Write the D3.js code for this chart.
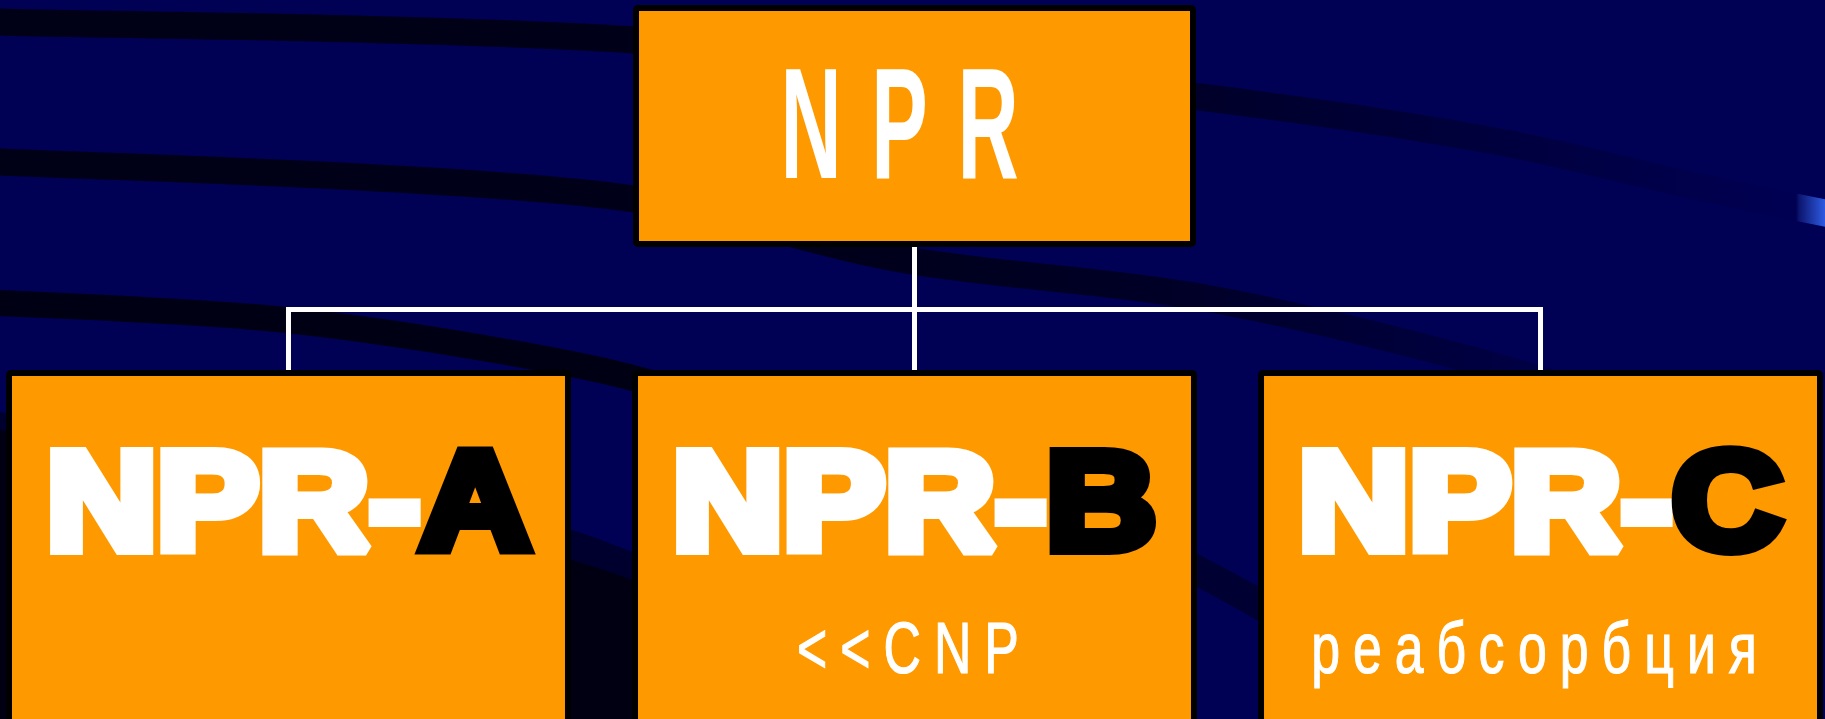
<html>
<meta charset="utf-8">
<script src="https://d3js.org/d3.v7.min.js"></script>
<style>
  body { margin: 0; background: #000055; overflow: hidden; }
  svg { display: block; }
</style>
<body>
<script>
// hierarchy: one parent, three children
const rootName = "NPR";
const childKeys = ["A", "B", "C"];
const childNotes = ["", "<<CNP", "реабсорбция"];

const width = 1825, height = 719;

// background swooshes of the slide template (decoration only)
const swooshes = [
  { pts: [[-20, 21], [0, 22], [634, 40], [1200, 97], [1500, 142], [1690, 185], [1840, 216]], w: 27, paint: 'url(#fade1)' },
  { pts: [[-20, 161], [0, 162], [634, 199], [900, 259], [1200, 297], [1480, 362], [1700, 430]], w: 27, paint: 'url(#fade2)' },
  { pts: [[-20, 302], [0, 303], [286, 320], [540, 358], [633, 378], [800, 430]], w: 26, paint: '#000014' },
  { pts: [[700, 400], [1000, 480], [1200, 572], [1320, 640]], w: 30, paint: '#000033' }
];
const shades = [
  { top: [[0, 412], [300, 460], [572, 530], [633, 552], [800, 610]], paint: '#00002e' },
  { top: [[0, 430], [300, 482], [572, 560], [633, 580], [800, 640]], paint: '#000012' }
];

const svg = d3.select('body').append('svg')
  .attr('width', width)
  .attr('height', height);

const defs = svg.append('defs');
function gradient(id, stops) {
  const g = defs.append('linearGradient')
    .attr('id', id)
    .attr('gradientUnits', 'userSpaceOnUse')
    .attr('x1', 0).attr('y1', 0).attr('x2', width).attr('y2', 0);
  g.selectAll('stop').data(stops).enter().append('stop')
    .attr('offset', d => d[0])
    .attr('stop-color', d => d[1]);
}
gradient('fade1', [[0, '#000016'], [0.35, '#000018'], [0.66, '#00002a'], [0.82, '#00003e'], [0.93, '#00004c'], [0.984, '#000053'], [0.986, '#0c1670'], [1, '#2d5be2']]);
gradient('fade2', [[0, '#000016'], [0.45, '#00001a'], [0.65, '#000028'], [0.78, '#00003c'], [0.9, '#00004e']]);

svg.append('rect')
  .attr('width', width).attr('height', height)
  .attr('fill', '#000055');

const curve = d3.line().curve(d3.curveCatmullRom);

svg.selectAll('.shade').data(shades)
  .enter()
  .append('path')
  .attr('class', 'shade')
  .attr('d', d => curve(d.top.concat([[d.top[d.top.length - 1][0], height + 10], [d.top[0][0], height + 10]])) )
  .attr('fill', d => d.paint);

svg.selectAll('.swoosh').data(swooshes)
  .enter()
  .append('path')
  .attr('class', 'swoosh')
  .attr('d', d => curve(d.pts))
  .attr('fill', 'none')
  .attr('stroke', d => d.paint)
  .attr('stroke-width', d => d.w);

// layout
const x = d3.scaleBand()
  .domain(childKeys)
  .range([6, 1823])
  .paddingInner(0.0975);

const border = 6;
const rootW = 563, rootTop = 5, rootBottom = 247;
const childTop = 370, busY = 309.5;
const cx = k => x(k) + x.bandwidth() / 2;
const rootCx = cx(childKeys[1]);

// connectors
const first = childKeys[0], last = childKeys[childKeys.length - 1];
svg.append('path')
  .attr('d', `M${cx(first)},${childTop} V${busY} H${cx(last)} V${childTop} M${rootCx},${rootBottom} V${childTop}`)
  .attr('fill', 'none')
  .attr('stroke', '#ffffff')
  .attr('stroke-width', 5)
  .attr('stroke-linejoin', 'miter');

// root box
svg.append('rect')
  .attr('x', rootCx - rootW / 2 + border / 2)
  .attr('y', rootTop + border / 2)
  .attr('width', rootW - border)
  .attr('height', rootBottom - rootTop - border)
  .attr('rx', 2)
  .attr('fill', '#ff9900')
  .attr('stroke', '#000000')
  .attr('stroke-width', border);

const narrow = 0.54;
svg.append('text')
  .attr('transform', `translate(${rootCx},178) scale(${narrow},1)`)
  .attr('text-anchor', 'middle')
  .attr('font-family', 'Liberation Sans, Arial, sans-serif')
  .attr('font-weight', 'bold')
  .attr('font-size', 157)
  .attr('letter-spacing', 55)
  .attr('fill', '#ffffff')
  .text(rootName);

// child boxes
const child = svg.selectAll('.child').data(childKeys)
  .enter()
  .append('g')
  .attr('class', 'child');

child.append('rect')
  .attr('x', d => x(d) + border / 2)
  .attr('y', childTop + border / 2)
  .attr('width', x.bandwidth() - border)
  .attr('height', height)
  .attr('rx', 2)
  .attr('fill', '#ff9900')
  .attr('stroke', '#000000')
  .attr('stroke-width', border);

const title = child.append('text')
  .attr('x', d => cx(d))
  .attr('y', 549)
  .attr('text-anchor', 'middle')
  .attr('font-family', 'Liberation Sans, Arial, sans-serif')
  .attr('font-weight', 'bold')
  .attr('font-size', 139)
  .attr('stroke-width', 12)
  .attr('stroke-linejoin', 'miter')
  .attr('stroke-miterlimit', 2)
  .attr('textLength', 484)
  .attr('lengthAdjust', 'spacingAndGlyphs');

title.append('tspan')
  .attr('fill', '#ffffff')
  .attr('stroke', '#ffffff')
  .text(rootName + '-');

title.append('tspan')
  .attr('fill', '#000000')
  .attr('stroke', '#000000')
  .text(d => d);

child.append('text')
  .attr('transform', d => `translate(${cx(d)},673) scale(0.72,1)`)
  .attr('text-anchor', 'middle')
  .attr('font-family', 'Liberation Sans, Arial, sans-serif')
  .attr('font-size', 72)
  .attr('letter-spacing', 18)
  .attr('fill', '#ffffff')
  .attr('stroke', '#ffffff')
  .attr('stroke-width', 1.2)
  .text((d, i) => childNotes[i]);
</script>
</body>
</html>
